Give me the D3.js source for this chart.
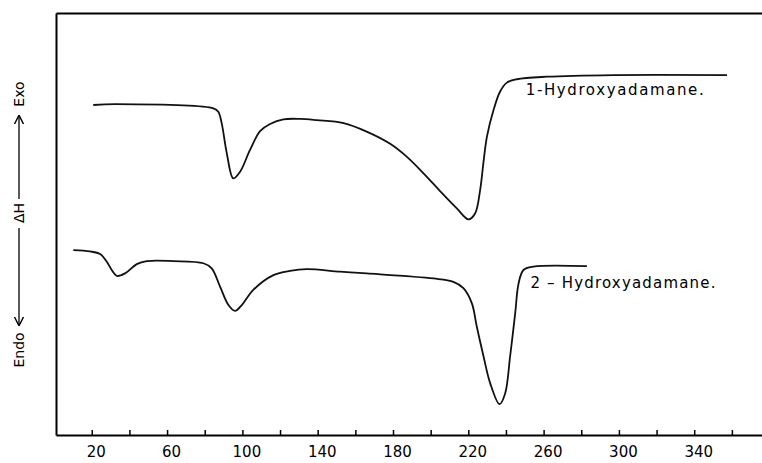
<!DOCTYPE html>
<html>
<head>
<meta charset="utf-8">
<script src="https://cdn.jsdelivr.net/npm/d3@7"></script>
<style>
  body { margin: 0; background: #fff; }
  svg { display: block; font-family: "DejaVu Sans", sans-serif; }
</style>
</head>
<body>
<div id="graphDiv"></div>
<script>
// temperature (°C) and ΔH (arbitrary units)
const temp1 = [20.8, 33, 84.6, 87.2, 89, 91.7, 95.2, 98.8, 104, 109.4, 114.7, 121.8, 130.7, 139.5, 153.7, 166, 178.5, 187.4, 196.2, 205, 213.9, 220.1, 223.6, 226.3, 228, 229.9, 233.4, 236.9, 240.5, 245.8, 261.7, 297.2, 357.4];
const dh1   = [78.2, 78.4, 77.4, 76.6, 73.9, 66.8, 60.8, 62.4, 67.5, 72.0, 73.7, 74.8, 74.9, 74.6, 73.9, 71.9, 69.0, 65.9, 62.0, 57.8, 53.7, 51.1, 52.5, 58.1, 64.4, 70.7, 77.0, 81.4, 83.5, 84.3, 84.9, 85.3, 85.3];

const temp2 = [10.2, 19.1, 24.4, 27.9, 30.6, 33.3, 37.7, 43.9, 49.2, 63.3, 79.3, 83.7, 88.2, 92.6, 96.1, 99.7, 105.8, 116.5, 125.3, 134.2, 151.9, 166.1, 201.5, 212.1, 217.4, 221.9, 224.5, 228.1, 231.6, 236.6, 239.6, 242.2, 244.9, 246.7, 249.3, 254.6, 283];
const dh2   = [43.8, 43.5, 42.9, 41.1, 39.1, 37.7, 38.3, 40.5, 41.2, 41.2, 40.7, 39.5, 35.1, 30.8, 29.4, 30.8, 34.4, 37.9, 38.9, 39.3, 38.7, 38.3, 37.1, 36.3, 34.8, 31.2, 25.7, 18.6, 12.3, 7.3, 9.9, 18.6, 28.8, 35.9, 39.1, 39.9, 40.0];

const seriesNames = ["1-Hydroxyadamane.", "2 \u2013 Hydroxyadamane."];
const tickValues = d3.range(20, 361, 20);
const labelValues = [20, 60, 100, 140, 180, 220, 260, 300, 340];

const W = 762, H = 463;
const margin = {top: 13, right: 0, bottom: 28, left: 56};

const svg = d3.select("#graphDiv").append("svg")
    .attr("width", W)
    .attr("height", H);

const x = d3.scaleLinear().domain([1, 376]).range([margin.left, W - margin.right]);
const y = d3.scaleLinear().domain([0, 100]).range([H - margin.bottom, margin.top]);

//bottom axis, ticks pointing inward
const xAxis = svg.append("g")
    .attr("transform", `translate(0,${H - margin.bottom})`)
    .call(d3.axisBottom(x)
        .tickValues(tickValues)
        .tickSizeInner(-5)
        .tickSizeOuter(0)
        .tickPadding(11)
        .tickFormat(d => labelValues.includes(d) ? d : ""));
xAxis.select(".domain").attr("stroke-width", 2);
xAxis.selectAll(".tick line").attr("stroke-width", 1.5);
xAxis.selectAll("text").attr("font-size", 15).attr("fill", "#000")
    .attr("dx", 4)
    .attr("font-family", "'DejaVu Sans', sans-serif");

//left and top frame lines
svg.append("g")
    .attr("transform", `translate(${margin.left},0)`)
    .call(d3.axisLeft(y).ticks(0).tickSizeOuter(0))
    .select(".domain").attr("stroke-width", 2);
svg.append("g")
    .attr("transform", `translate(0,${margin.top})`)
    .call(d3.axisTop(x).ticks(0).tickSizeOuter(0))
    .select(".domain").attr("stroke-width", 2);

const line = d3.line()
    .x(d => x(d[0]))
    .y(d => y(d[1]))
    .curve(d3.curveCatmullRom.alpha(0.5));

const curves = [d3.zip(temp1, dh1), d3.zip(temp2, dh2)];
svg.append("g")
    .selectAll("path")
    .data(curves)
    .join("path")
    .attr("fill", "none")
    .attr("stroke", "#111")
    .attr("stroke-width", 1.8)
    .attr("d", line);

//curve labels
svg.append("text")
    .attr("x", x(250.5)).attr("y", y(80.6))
    .attr("font-size", 15)
    .attr("textLength", 178)
    .text(seriesNames[0]);
svg.append("text")
    .attr("x", x(253)).attr("y", y(34.8))
    .attr("font-size", 15)
    .attr("textLength", 185)
    .text(seriesNames[1]);

//vertical ΔH label with arrows
const yl = svg.append("g").attr("font-size", 14).attr("fill", "#000");
function vtext(txt, cy) {
    yl.append("text")
        .attr("transform", `translate(24,${cy}) rotate(-90)`)
        .attr("text-anchor", "middle")
        .text(txt);
}
vtext("Exo", 94);
vtext("\u0394H", 213);
vtext("Endo", 350);

svg.append("defs").append("marker")
    .attr("id", "arr")
    .attr("viewBox", "0 0 10 10")
    .attr("refX", 9).attr("refY", 5)
    .attr("markerWidth", 7).attr("markerHeight", 7)
    .attr("orient", "auto")
    .append("path")
    .attr("d", "M0,0 L10,5 L0,10")
    .attr("fill", "none")
    .attr("stroke", "#000")
    .attr("stroke-width", 1.5);

yl.append("line")
    .attr("x1", 19).attr("x2", 19).attr("y1", 199).attr("y2", 116)
    .attr("stroke", "#000").attr("stroke-width", 1.3)
    .attr("marker-end", "url(#arr)");
yl.append("line")
    .attr("x1", 19).attr("x2", 19).attr("y1", 228).attr("y2", 325)
    .attr("stroke", "#000").attr("stroke-width", 1.3)
    .attr("marker-end", "url(#arr)");
</script>
</body>
</html>
